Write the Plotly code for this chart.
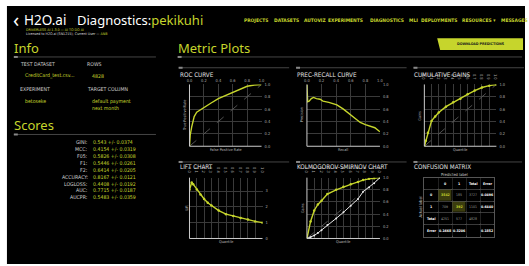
import plotly.graph_objects as go

W, H = 529, 266
YEL = "#c6d52c"
GRID = "#3a3a3a"
TXT = "#d0d0d0"
COND = "Liberation Sans Narrow, DejaVu Sans Condensed, Roboto, sans-serif"
HEAD = "Noto Sans, Roboto, sans-serif"

# ---------------- data ----------------
nav_items = ["PROJECTS", "DATASETS", "AUTOVIZ", "EXPERIMENTS", "DIAGNOSTICS", "MLI",
             "DEPLOYMENTS", "RESOURCES \u25be", "MESSAGES"]
score_names = ["GINI:", "MCC:", "F05:", "F1:", "F2:", "ACCURACY:", "LOGLOSS:", "AUC:", "AUCPR:"]
score_vals = ["0.543 +/- 0.0374", "0.4154 +/- 0.0319", "0.5826 +/- 0.0308",
              "0.5446 +/- 0.0261", "0.6414 +/- 0.0205", "0.8167 +/- 0.0121",
              "0.4408 +/- 0.0192", "0.7715 +/- 0.0187", "0.5483 +/- 0.0359"]

roc_fpr = [0.0, 0.01, 0.03, 0.065, 0.1, 0.15, 0.2, 0.3, 0.4, 0.5, 0.6, 0.7, 0.8, 0.9, 1.0]
roc_tpr = [0.0, 0.18, 0.31, 0.48, 0.55, 0.59, 0.62, 0.70, 0.77, 0.82, 0.88, 0.92, 0.97, 0.99, 1.0]

pr_recall = [0.0, 0.01, 0.03, 0.06, 0.09, 0.13, 0.18, 0.22, 0.3, 0.41, 0.5, 0.59, 0.66, 0.73, 0.8, 0.86, 0.93, 1.0]
pr_precision = [1.0, 0.72, 0.73, 0.77, 0.79, 0.77, 0.76, 0.73, 0.71, 0.67, 0.60, 0.52, 0.45, 0.385, 0.35, 0.33, 0.30, 0.235]

gain_q = [0.0, 0.02, 0.05, 0.1, 0.15, 0.2, 0.3, 0.4, 0.5, 0.6, 0.7, 0.8, 0.9, 1.0]
gain_v = [0.0, 0.09, 0.22, 0.41, 0.48, 0.545, 0.64, 0.71, 0.77, 0.84, 0.90, 0.95, 0.98, 1.0]

lift_q = [0.0, 0.03, 0.05, 0.1, 0.15, 0.2, 0.25, 0.3, 0.4, 0.5, 0.6, 0.7, 0.8, 0.9, 1.0]
lift_v = [3.08, 3.54, 3.44, 3.1, 2.78, 2.5, 2.26, 2.08, 1.77, 1.54, 1.42, 1.29, 1.2, 1.08, 1.0]

ks_q = [0.0, 0.05, 0.1, 0.15, 0.2, 0.28, 0.4, 0.5, 0.6, 0.7, 0.77, 0.85, 0.92, 1.0]
ks_pos = [0.0, 0.28, 0.46, 0.56, 0.62, 0.73, 0.80, 0.85, 0.89, 0.93, 0.96, 0.98, 0.99, 1.0]
ks_neg = [0.0, 0.02, 0.05, 0.09, 0.135, 0.22, 0.33, 0.43, 0.54, 0.65, 0.77, 0.84, 0.91, 1.0]

cm_header = ["", "0", "1", "Total", "Error"]
cm_rows = ["0", "1", "Total", "Error"]
cm_col0 = ["3542", "709", "4251", "0.1668"]
cm_col1 = ["185", "392", "577", "0.3206"]
cm_total = ["3727", "1101", "4828", ""]
cm_error = ["0.0496", "0.6440", "", "0.1852"]


def X(p):
    return p / W


def Y(p):
    return 1 - p / H


def sfx(n):
    return "" if n == 1 else str(n)


fig = go.Figure()
shapes = []
ann = []


def text(x, y, s, size, color=TXT, family=COND, xanchor="left", **kw):
    ann.append(dict(x=X(x), y=Y(y), xref="paper", yref="paper", text=s, showarrow=False,
                    xanchor=xanchor, yanchor="middle", borderpad=0,
                    font=dict(size=size, color=color, family=family), **kw))


def hline(x0, x1, y, color="#444", width=1):
    shapes.append(dict(type="line", xref="paper", yref="paper", x0=X(x0), x1=X(x1),
                       y0=Y(y), y1=Y(y), line=dict(color=color, width=width)))
    shapes.append(dict(type="line", xref="paper", yref="paper", x0=X(x0), x1=X(x0 + 4),
                       y0=Y(y), y1=Y(y), line=dict(color="#888", width=2)))


# background
shapes.append(dict(type="rect", xref="paper", yref="paper", x0=X(4), x1=1, y0=0, y1=Y(3),
                   fillcolor="#000", line=dict(width=0), layer="below"))

# header
text(9, 17, "\u2039", 20, "#ffffff", HEAD)
text(20, 17, "H2O.ai", 13.5, "#ffffff", HEAD)
text(74, 17, "Diagnostics:<span style='color:%s'>pekikuhi</span>" % YEL, 13, "#ffffff", HEAD)
text(22, 27.5, "DRIVERLESS AI 1.3.0 \u2014 AI TO DO AI", 3.6, YEL)
text(22, 32, "Licensed to H2O.ai (SN1215); Current User \u2014 <span style='color:%s'>ANB</span>" % YEL, 3.6, "#dddddd")
nav_x = [243, 274, 304, 328, 371, 410, 423, 464, 504]
for nx, item in zip(nav_x, nav_items):
    text(nx, 17, "<b>%s</b>" % item, 4.9, YEL)

# Info
text(10, 46, "Info", 13, YEL, HEAD)
hline(11, 155, 55)
text(16, 62, "TEST DATASET", 5.2)
text(84, 62, "ROWS", 5.2)
text(21, 74, "CreditCard_test.csv...", 5.2, YEL)
text(89, 74, "4828", 5.2, YEL)
text(16, 88, "EXPERIMENT", 5.2)
text(84, 88, "TARGET COLUMN", 5.2)
text(21, 100, "betoseke", 5.2, YEL)
text(89, 100, "default payment", 5.2, YEL)
text(89, 107, "next month", 5.2, YEL)

# Scores
text(10, 124, "Scores", 13, YEL, HEAD)
hline(11, 155, 134)
for i, (n, v) in enumerate(zip(score_names, score_vals)):
    yy = 142 + i * 7
    text(87, yy, n, 5.2, TXT, xanchor="right")
    text(90, yy, v, 5.2, YEL)

# Metric plots header + button
text(176, 46, "Metric Plots", 13, YEL, HEAD)
hline(177, 526, 55)
shapes.append(dict(type="path", xref="paper", yref="paper",
                   path="M %f %f L %f %f L %f %f L %f %f Z" % (X(440), Y(36), X(527), Y(36), X(527), Y(48), X(443), Y(48)),
                   fillcolor=YEL, line=dict(width=0)))
text(484, 42, "<b>DOWNLOAD PREDICTIONS</b>", 3.6, "#1a1a1a", xanchor="center")

# panels
panels = [
    (1, "ROC CURVE", 178, 73, 66, 189, 262, 83, 146, 0.2, [0, 1], 0.2, ".1f", "False Positive Rate", "True Positive Rate", 184),
    (2, "PREC-RECALL CURVE", 297, 73, 66, 308, 382, 83, 146, 0.2, [0, 1], 0.2, ".1f", "Recall", "Precision", 302),
    (3, "CUMULATIVE GAINS", 416, 73, 66, 427, 500, 83, 146, 0.1, [0, 1], 0.2, ".1f", "Quantile", "Gains", 422),
    (4, "LIFT CHART", 178, 167, 162, 189, 263, 178, 240, 0.1, [0, 3.85], 1, "d", "Quantile", "Lift", 186),
    (5, "KOLMOGOROV-SMIRNOV CHART", 297, 167, 162, 308, 382, 178, 240, 0.1, [0, 1], 0.2, ".1f", "Quantile", "Gains", 303),
]
layout_axes = {}
for (n, title, tx, ty, ly, x0, x1, y0, y1, xdt, yr, ydt, yfmt, xlab, ylab, ylx) in panels:
    s = sfx(n)
    hline(tx, tx + 112, ly)
    text(tx, ty, title, 6.3, "#e0e0e0")
    layout_axes["xaxis" + s] = dict(domain=[X(x0), X(x1)], anchor="y" + s, side="top", range=[0, 1],
                                    dtick=xdt, tick0=0, tickformat=".1f", showgrid=True, gridcolor=GRID,
                                    gridwidth=0.6, zeroline=False, showline=False, ticks="",
                                    tickfont=dict(size=4, color="#aaa", family=COND), ticklabelstandoff=1)
    layout_axes["yaxis" + s] = dict(domain=[Y(y1), Y(y0)], anchor="x" + s, side="right", range=yr,
                                    dtick=ydt, tick0=0, tickformat=yfmt, showgrid=True, gridcolor=GRID,
                                    gridwidth=0.6, zeroline=False, showline=False, ticks="",
                                    tickfont=dict(size=4, color="#aaa", family=COND), ticklabelstandoff=2)
    for (a, b, c, d) in [(0, 0, 0, 1), (0, 0, 1, 0)]:
        shapes.append(dict(type="line", xref="x%s domain" % s, yref="y%s domain" % s,
                           x0=a, y0=b, x1=c, y1=d, line=dict(color="#cccccc", width=1)))
    text((x0 + x1) / 2, y1 + 3.5, xlab, 3.8, "#bbb", xanchor="center")
    ann.append(dict(x=X(ylx), y=Y((y0 + y1) / 2), xref="paper", yref="paper", text=ylab, showarrow=False,
                    textangle=-90, xanchor="center", yanchor="middle",
                    font=dict(size=3.8, color="#bbb", family=COND)))

line_kw = dict(color=YEL, width=1.4)
diag = dict(color="#666", width=0.8, dash="dash")
fig.add_trace(go.Scatter(x=[0, 1], y=[0, 1], mode="lines", line=diag, xaxis="x", yaxis="y"))
fig.add_trace(go.Scatter(x=roc_fpr, y=roc_tpr, mode="lines", line=line_kw, xaxis="x", yaxis="y"))
fig.add_trace(go.Scatter(x=pr_recall, y=pr_precision, mode="lines", line=line_kw, xaxis="x2", yaxis="y2"))
fig.add_trace(go.Scatter(x=[0, 1], y=[0, 1], mode="lines", line=diag, xaxis="x3", yaxis="y3"))
fig.add_trace(go.Scatter(x=gain_q, y=gain_v, mode="lines+markers", line=line_kw,
                         marker=dict(size=2.5, color=YEL), xaxis="x3", yaxis="y3"))
fig.add_trace(go.Scatter(x=lift_q, y=lift_v, mode="lines+markers", line=line_kw,
                         marker=dict(size=2.5, color=YEL), xaxis="x4", yaxis="y4"))
fig.add_trace(go.Scatter(x=[0, 1], y=[0, 1], mode="lines", line=diag, xaxis="x5", yaxis="y5"))
fig.add_trace(go.Scatter(x=ks_q, y=ks_pos, mode="lines+markers", line=line_kw,
                         marker=dict(size=2.5, color=YEL), xaxis="x5", yaxis="y5"))
fig.add_trace(go.Scatter(x=ks_q, y=ks_neg, mode="lines+markers", line=dict(color="#e8e8e8", width=1),
                         marker=dict(size=2, color="#e8e8e8"), xaxis="x5", yaxis="y5"))

# confusion matrix (heatmap grid on axis 6 + cell annotations)
hline(416, 526, 162)
text(416, 167, "CONFUSION MATRIX", 6.3, "#e0e0e0")
text(458, 174.5, "Predicted label", 4, "#ccc", xanchor="center")
ann.append(dict(x=X(423), y=Y(208), xref="paper", yref="paper", text="Actual label", showarrow=False,
                textangle=-90, xanchor="center", yanchor="middle", font=dict(size=4, color="#ccc", family=COND)))

grid_rows = [cm_header] + [[r, a, b, t, e] for r, a, b, t, e in zip(cm_rows, cm_col0, cm_col1, cm_total, cm_error)]
hl = [[1 if (i == j and 1 <= i <= 2) else 0 for j in range(5)] for i in range(5)]
fig.add_trace(go.Heatmap(z=hl, x=list(range(5)), y=list(range(5)), colorscale=[[0, "#000"], [1, "#3b3d0e"]],
                         showscale=False, xgap=1, ygap=1, hoverinfo="skip", xaxis="x6", yaxis="y6"))
for i, row in enumerate(grid_rows):
    for j, v in enumerate(row):
        if not v:
            continue
        if i == 0 or j == 0 or j == 4 or i == 4:
            col, txt = "#ffffff", "<b>%s</b>" % v
        elif hl[i][j]:
            col, txt = YEL, "<b>%s</b>" % v
        else:
            col, txt = "#9a9a9a", v
        ann.append(dict(x=j, y=i, xref="x6", yref="y6", text=txt, showarrow=False, borderpad=0,
                        font=dict(size=3.5, color=col, family=COND)))
bounds = [-0.5, 0.5, 1.5, 2.5, 3.5, 4.5]
layout_axes["xaxis6"] = dict(domain=[X(427), X(498)], anchor="y6", range=[-0.5, 4.5], tickvals=bounds,
                             showticklabels=False, showgrid=True, gridcolor="#555", gridwidth=0.7,
                             zeroline=False, showline=True, mirror=True, linecolor="#555", linewidth=0.7, ticks="")
layout_axes["yaxis6"] = dict(domain=[Y(238), Y(178)], anchor="x6", range=[4.5, -0.5], tickvals=bounds,
                             showticklabels=False, showgrid=True, gridcolor="#555", gridwidth=0.7,
                             zeroline=False, showline=True, mirror=True, linecolor="#555", linewidth=0.7, ticks="")

fig.update_layout(width=W, height=H, margin=dict(l=0, r=0, t=0, b=0), paper_bgcolor="#ffffff",
                  plot_bgcolor="#000000", showlegend=False, shapes=shapes, annotations=ann,
                  **layout_axes)
fig.write_html("out.html", config={"displayModeBar": False},
               post_script="document.body.style.margin='0px';document.body.style.overflow='hidden';")
